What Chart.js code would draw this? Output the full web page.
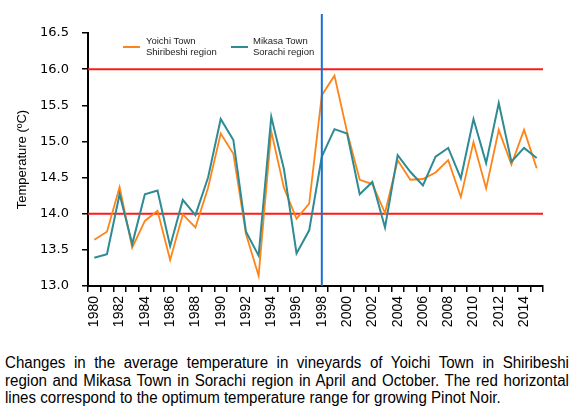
<!DOCTYPE html>
<html>
<head>
<meta charset="utf-8">
<script src="https://cdn.jsdelivr.net/npm/chart.js@4.4.1/dist/chart.umd.min.js"></script>
<style>
    body { margin: 0; background: #fff; width: 574px; height: 416px; overflow: hidden; position: relative; font-family: "Liberation Sans", Arial, sans-serif; }
    #wrap { position: absolute; left: 0; top: 0; width: 574px; height: 340px; }
    .lg-line { position: absolute; height: 2px; width: 17px; }
    .lg-text { position: absolute; font-size: 9.5px; line-height: 11px; color: #222; white-space: nowrap; }
    #caption { position: absolute; left: 5px; top: 354px; width: 598px; font-size: 16px; line-height: 17.5px; color: #000; transform: scaleX(0.943); transform-origin: 0 0; }
    #caption .cl { text-align: justify; text-align-last: justify; }
    #caption .cl.last { text-align: left; text-align-last: left; }
</style>
</head>
<body>
<div id="wrap"><canvas id="tempChart" width="574" height="340"></canvas></div>

<div class="lg-line" style="left:123px; top:46px; background:#ff8418;"></div>
<div class="lg-text" style="left:146px; top:35px;">Yoichi Town<br>Shiribeshi region</div>
<div class="lg-line" style="left:231px; top:46px; background:#2d8b93;"></div>
<div class="lg-text" style="left:253px; top:35px;">Mikasa Town<br>Sorachi region</div>

<div id="caption">
    <div class="cl">Changes in the average temperature in vineyards of Yoichi Town in Shiribeshi</div>
    <div class="cl">region and Mikasa Town in Sorachi region in April and October. The red horizontal</div>
    <div class="cl last">lines correspond to the optimum temperature range for growing Pinot Noir.</div>
</div>

<script>
// Data
const years = ['1980', '1981', '1982', '1983', '1984', '1985', '1986', '1987', '1988', '1989',
               '1990', '1991', '1992', '1993', '1994', '1995', '1996', '1997', '1998', '1999',
               '2000', '2001', '2002', '2003', '2004', '2005', '2006', '2007', '2008', '2009',
               '2010', '2011', '2012', '2013', '2014', '2015'];

const yoichi = [13.64, 13.75, 14.37, 13.53, 13.90, 14.04, 13.36, 13.99, 13.81, 14.36,
                15.11, 14.83, 13.72, 13.14, 15.14, 14.36, 13.93, 14.14, 15.64, 15.91,
                15.13, 14.47, 14.41, 14.01, 14.74, 14.47, 14.48, 14.57, 14.74, 14.23,
                14.99, 14.35, 15.16, 14.68, 15.16, 14.63];

const mikasa = [13.39, 13.44, 14.27, 13.58, 14.27, 14.32, 13.55, 14.19, 13.98, 14.50,
                15.31, 15.02, 13.75, 13.42, 15.34, 14.62, 13.45, 13.77, 14.79, 15.17,
                15.11, 14.27, 14.44, 13.81, 14.81, 14.58, 14.39, 14.79, 14.91, 14.49,
                15.31, 14.70, 15.53, 14.72, 14.91, 14.77];

const optimumRange = [14.0, 16.0];
const markerYear = '1998';

// Red range lines under the series
const rangeLines = {
    id: 'rangeLines',
    beforeDatasetsDraw(chart) {
        const { ctx, chartArea, scales } = chart;
        ctx.save();
        ctx.strokeStyle = '#ff1a1a';
        ctx.lineWidth = 2;
        optimumRange.forEach(v => {
            const y = scales.y.getPixelForValue(v);
            ctx.beginPath();
            ctx.moveTo(chartArea.left, y);
            ctx.lineTo(chartArea.right, y);
            ctx.stroke();
        });
        ctx.restore();
    }
};

// Blue vertical marker on top
const markerLine = {
    id: 'markerLine',
    afterDatasetsDraw(chart) {
        const { ctx, chartArea, scales } = chart;
        const x = scales.x.getPixelForValue(years.indexOf(markerYear));
        ctx.save();
        ctx.strokeStyle = '#1c6fd1';
        ctx.lineWidth = 2;
        ctx.beginPath();
        ctx.moveTo(x, chartArea.top - 19);
        ctx.lineTo(x, chartArea.bottom);
        ctx.stroke();
        ctx.restore();
    }
};

const ctx = document.getElementById('tempChart').getContext('2d');
new Chart(ctx, {
    type: 'line',
    data: {
        labels: years,
        datasets: [{
            label: 'Mikasa Town Sorachi region',
            data: mikasa,
            borderColor: '#2d8b93',
            borderWidth: 2,
            pointRadius: 0,
            tension: 0,
            fill: false
        }, {
            label: 'Yoichi Town Shiribeshi region',
            data: yoichi,
            borderColor: '#ff8418',
            borderWidth: 1.8,
            pointRadius: 0,
            tension: 0,
            fill: false
        }]
    },
    options: {
        responsive: false,
        animation: false,
        layout: { padding: { left: 15, right: 31, top: 33, bottom: 5 } },
        plugins: {
            legend: { display: false },
            tooltip: { enabled: false }
        },
        scales: {
            x: {
                type: 'category',
                offset: true,
                afterFit: function(scale) { scale.height = 49; },
                border: { display: true, color: '#000', width: 2 },
                grid: {
                    offset: true,
                    drawOnChartArea: false,
                    drawTicks: true,
                    tickLength: 6,
                    color: '#000',
                    lineWidth: 1.5
                },
                ticks: {
                    autoSkip: false,
                    maxRotation: 90,
                    minRotation: 90,
                    padding: 4,
                    color: '#000',
                    font: { family: 'Liberation Sans', size: 14 },
                    callback: function(value, index) {
                        return index % 2 === 0 ? years[index] : '';
                    }
                }
            },
            y: {
                min: 13,
                max: 16.5,
                afterFit: function(scale) { scale.width = 73; },
                title: {
                    display: true,
                    text: 'Temperature (ºC)',
                    color: '#000',
                    font: { family: 'Liberation Sans', size: 13 },
                    padding: 0
                },
                border: { display: true, color: '#000', width: 2 },
                grid: {
                    drawOnChartArea: false,
                    drawTicks: true,
                    tickLength: 6,
                    color: '#000',
                    lineWidth: 1.5
                },
                ticks: {
                    stepSize: 0.5,
                    padding: 13,
                    color: '#000',
                    font: { family: 'DejaVu Sans', size: 13 },
                    callback: function(value) { return value.toFixed(1); }
                }
            }
        }
    },
    plugins: [rangeLines, markerLine]
});
</script>
</body>
</html>
